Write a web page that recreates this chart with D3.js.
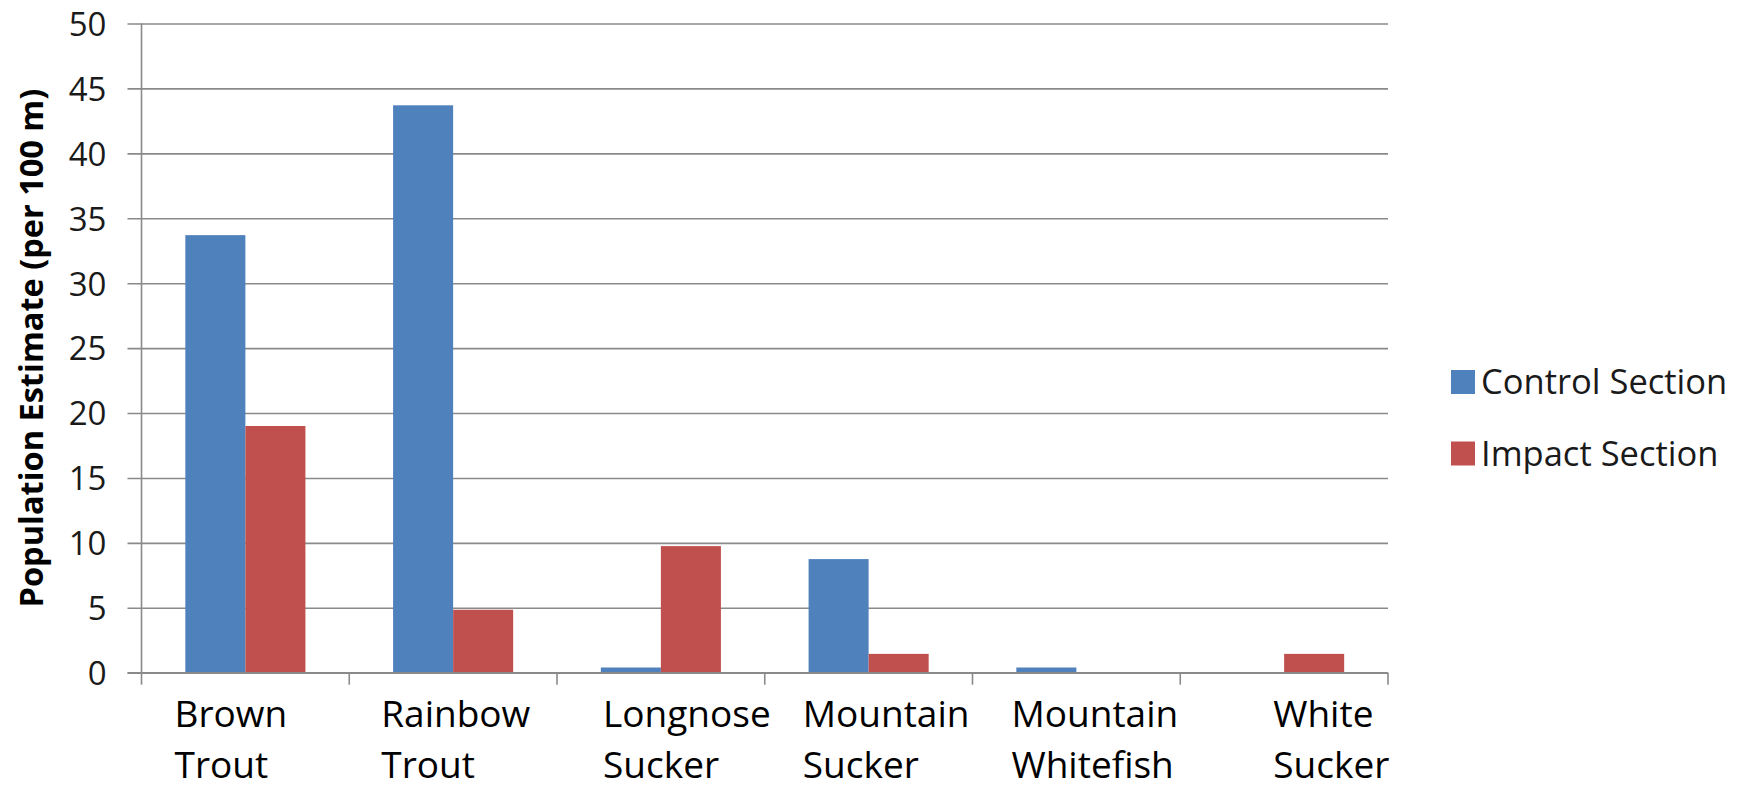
<!DOCTYPE html>
<html>
<head>
<meta charset="utf-8">
<script src="https://cdn.jsdelivr.net/npm/d3@7/dist/d3.min.js"></script>
<style>
  html, body { margin: 0; padding: 0; background: #fff; }
  svg { display: block; }
  text { font-family: "Open Sans", "Liberation Sans", sans-serif; }
</style>
</head>
<body>
<svg id="chart" width="1745" height="790"></svg>
<script>
// Fish population estimates by species, control vs. impact river sections
const species = [
  ["Brown", "Trout"],
  ["Rainbow", "Trout"],
  ["Longnose", "Sucker"],
  ["Mountain", "Sucker"],
  ["Mountain", "Whitefish"],
  ["White", "Sucker"]
];
const seriesNames = ["Control Section", "Impact Section"];
const controlValues = [33.7, 43.7, 0.4, 8.75, 0.4, 0];
const impactValues = [19.0, 4.85, 9.75, 1.45, 0, 1.45];
const yTicks = [0, 5, 10, 15, 20, 25, 30, 35, 40, 45, 50];
const yTitle = "Population Estimate (per 100 m)";

// Layout
const colors = ["#4F81BD", "#C0504D"];
const plot = { left: 141.5, right: 1388, top: 23.5, bottom: 672.7 };
// horizontal nudge of each wrapped category label from its band start
const labelNudge = [33, 32, 46, 38, 39, 93];

const svg = d3.select("#chart");
const keys = species.map(d => d.join(" "));

const x = d3.scaleBand().domain(keys).range([plot.left, plot.right]).padding(0);
const xInner = d3.scaleBand().domain(seriesNames).range([0, x.bandwidth()])
  .paddingInner(0).paddingOuter(0.73);
const y = d3.scaleLinear().domain([0, 50]).range([plot.bottom, plot.top]);

const gridColor = "#8a8a8a";

// horizontal gridlines with left tick marks
const yAxis = d3.axisLeft(y).tickValues(yTicks)
  .tickSize(-(plot.right - plot.left)).tickSizeOuter(0).tickPadding(35)
  .tickFormat(d3.format("d"));
const gy = svg.append("g").attr("transform", `translate(${plot.left},0)`).call(yAxis);
gy.select(".domain").remove();
gy.selectAll(".tick line")
  .attr("x1", -14).attr("stroke", gridColor).attr("stroke-width", 1.6);
gy.selectAll(".tick text")
  .attr("fill", "#1a1a1a").attr("font-size", 33)
  .attr("dy", "0.36em");

// vertical axis line
svg.append("line")
  .attr("x1", plot.left).attr("x2", plot.left)
  .attr("y1", plot.top).attr("y2", plot.bottom)
  .attr("stroke", gridColor).attr("stroke-width", 1.6);

// bars
const rows = keys.map((k, i) => ({ key: k, values: [controlValues[i], impactValues[i]] }));
const groups = svg.append("g").selectAll("g").data(rows).join("g")
  .attr("transform", d => `translate(${x(d.key)},0)`);
groups.selectAll("rect")
  .data(d => d.values.map((v, j) => ({ series: seriesNames[j], value: v, j })))
  .join("rect")
  .attr("x", d => xInner(d.series))
  .attr("width", xInner.bandwidth())
  .attr("y", d => y(d.value))
  .attr("height", d => y(0) - y(d.value))
  .attr("fill", d => colors[d.j]);

// category axis with tick marks at band boundaries
const gx = svg.append("g");
gx.append("line")
  .attr("x1", plot.left - 14).attr("x2", plot.right)
  .attr("y1", y(0)).attr("y2", y(0))
  .attr("stroke", gridColor).attr("stroke-width", 1.6);
const bounds = keys.map(k => x(k)).concat([plot.right]);
gx.selectAll("line.tick").data(bounds).join("line")
  .attr("class", "tick")
  .attr("x1", d => d).attr("x2", d => d)
  .attr("y1", y(0)).attr("y2", y(0) + 12)
  .attr("stroke", gridColor).attr("stroke-width", 1.6);

const labels = gx.selectAll("text.cat").data(species).join("text")
  .attr("class", "cat")
  .attr("fill", "#000")
  .attr("font-size", 37)
  .attr("x", (d, i) => x(keys[i]) + labelNudge[i])
  .attr("y", 727);
labels.selectAll("tspan").data((d, i) => d.map(t => ({ t, i }))).join("tspan")
  .attr("x", d => x(keys[d.i]) + labelNudge[d.i])
  .attr("dy", (d, k) => k === 0 ? 0 : 51)
  .text(d => d.t);

// y-axis title
svg.append("text")
  .attr("transform", `translate(43,${(plot.top + plot.bottom) / 2}) rotate(-90)`)
  .attr("text-anchor", "middle")
  .attr("font-weight", "bold")
  .attr("font-size", 32.5)
  .attr("fill", "#000")
  .text(yTitle);

// legend
const legend = svg.append("g").attr("transform", "translate(1451,370)");
const items = legend.selectAll("g").data(seriesNames).join("g")
  .attr("transform", (d, i) => `translate(0,${i * 71.5})`);
items.append("rect").attr("width", 24).attr("height", 24)
  .attr("fill", (d, i) => colors[i]);
items.append("text")
  .attr("x", 30).attr("y", 12).attr("dy", "0.36em")
  .attr("font-size", 34.5).attr("fill", "#1a1a1a")
  .text(d => d);
</script>
</body>
</html>
